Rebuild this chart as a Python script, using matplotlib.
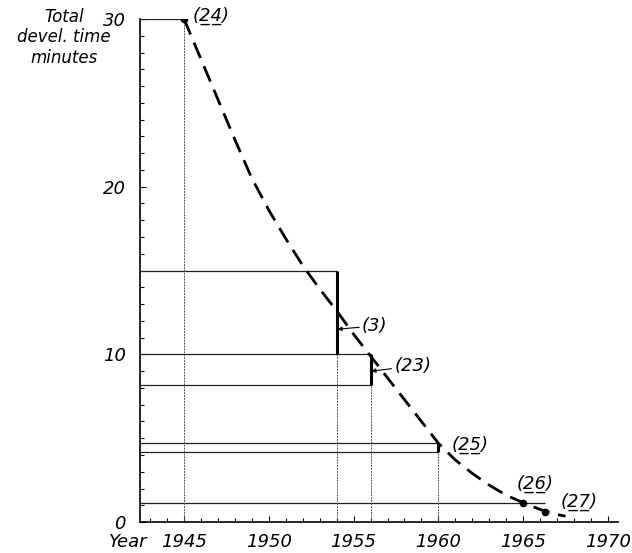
import numpy as np
import matplotlib.pyplot as plt

# dashed trend curve
curve_years = [1945, 1946, 1947, 1948, 1949, 1950, 1951, 1952, 1953, 1954,
               1955, 1956, 1957, 1958, 1959, 1960, 1961, 1962, 1963, 1964,
               1965, 1966, 1967, 1967.5]
curve_minutes = [30, 27.6, 25.2, 22.8, 20.5, 18.6, 16.9, 15.3, 13.9, 12.6,
                 11.2, 9.9, 8.6, 7.3, 6.0, 4.7, 3.7, 2.9, 2.2, 1.6,
                 1.15, 0.75, 0.45, 0.35]

# horizontal reference levels and the year where each stops
levels = [30, 15, 10, 8.2, 4.7, 4.2, 1.15]
level_ends = [1945, 1954, 1956, 1956, 1960, 1960, 1966.3]

# verticals at the marked years
mark_years = [1945, 1954, 1956, 1960]
mark_tops = [30, 15, 10, 4.7]

# thick ranges (year, low, high)
range_years = [1954, 1956, 1960]
range_low = [10, 8.2, 4.2]
range_high = [15, 10, 4.7]

# dots
dot_years = [1945, 1965, 1966.3]
dot_minutes = [30, 1.15, 0.6]

ylabel_lines = ['Total', 'devel. time', 'minutes']

fnt = dict(family='DejaVu Sans', style='italic')
UL = '\u0332'

def under(s):
    """underline digits with a combining low line"""
    return ''.join(c + UL for c in s)

fig = plt.figure(figsize=(6.32, 5.53), dpi=100)
ax = fig.add_axes([0.2215, 0.056, 0.7565, 0.9095])

for lv, xe in zip(levels, level_ends):
    ax.plot([1942.4, xe], [lv, lv], color='#222222', lw=0.9, solid_capstyle='butt')
for yr, top in zip(mark_years, mark_tops):
    ax.plot([yr, yr], [0, top], color='#555555', lw=0.7, ls=(0, (2, 1)))
for yr, lo, hi in zip(range_years, range_low, range_high):
    ax.plot([yr, yr], [lo, hi], color='black', lw=2.2, solid_capstyle='butt')

ax.plot(curve_years, curve_minutes, color='black', lw=2.0, ls=(0, (6, 3.2)))
ax.plot(dot_years, dot_minutes, 'o', color='black', ms=4.5)

ax.set_xlim(1942.4, 1970.6)
ax.set_ylim(0, 30)
for s in ['top', 'right']:
    ax.spines[s].set_visible(False)
ax.spines['left'].set_linewidth(1.2)
ax.spines['bottom'].set_linewidth(1.2)

ax.set_yticks([0, 10, 20, 30])
ax.set_yticks(np.arange(0, 31, 1), minor=True)
ax.set_xticks([1945, 1950, 1955, 1960, 1965, 1970])
ax.set_xticks(np.arange(1943, 1971, 1), minor=True)
ax.tick_params(which='both', direction='in', length=3, width=0.8, labelsize=13)
ax.tick_params(which='major', length=4)
ax.tick_params(axis='y', pad=10)
ax.tick_params(axis='x', pad=8)
for lab in ax.get_xticklabels() + ax.get_yticklabels():
    lab.set_fontstyle('italic')

# y label, one text per line
for i, line in enumerate(ylabel_lines):
    fig.text(64 / 632, 1 - (17 + 20.5 * i) / 553, line, ha='center', va='center',
             fontsize=12, **fnt)
ax.annotate('Year', xy=(1945, 0), xytext=(-54, -8), textcoords='offset points',
            ha='left', va='top', fontsize=13, **fnt)

labels = ['24', '25', '26', '27']
label_at = [(1945.5, 30.2), (1960.8, 4.6), (1964.6, 2.3), (1967.2, 1.2)]
for t, (xx, yy) in zip(labels, label_at):
    ax.text(xx, yy, '(' + under(t) + ')', fontsize=13, ha='left', va='center', **fnt)

ax.annotate('(3)', xy=(1954.05, 11.5), xytext=(1955.5, 11.7), fontsize=13,
            va='center', ha='left', arrowprops=dict(arrowstyle='-|>', lw=0.8,
            color='black', mutation_scale=6, shrinkA=0, shrinkB=0), **fnt)
ax.annotate('(23)', xy=(1956.05, 9.0), xytext=(1957.4, 9.3), fontsize=13,
            va='center', ha='left', arrowprops=dict(arrowstyle='-|>', lw=0.8,
            color='black', mutation_scale=6, shrinkA=0, shrinkB=0), **fnt)

fig.savefig('out.png', dpi=100)
